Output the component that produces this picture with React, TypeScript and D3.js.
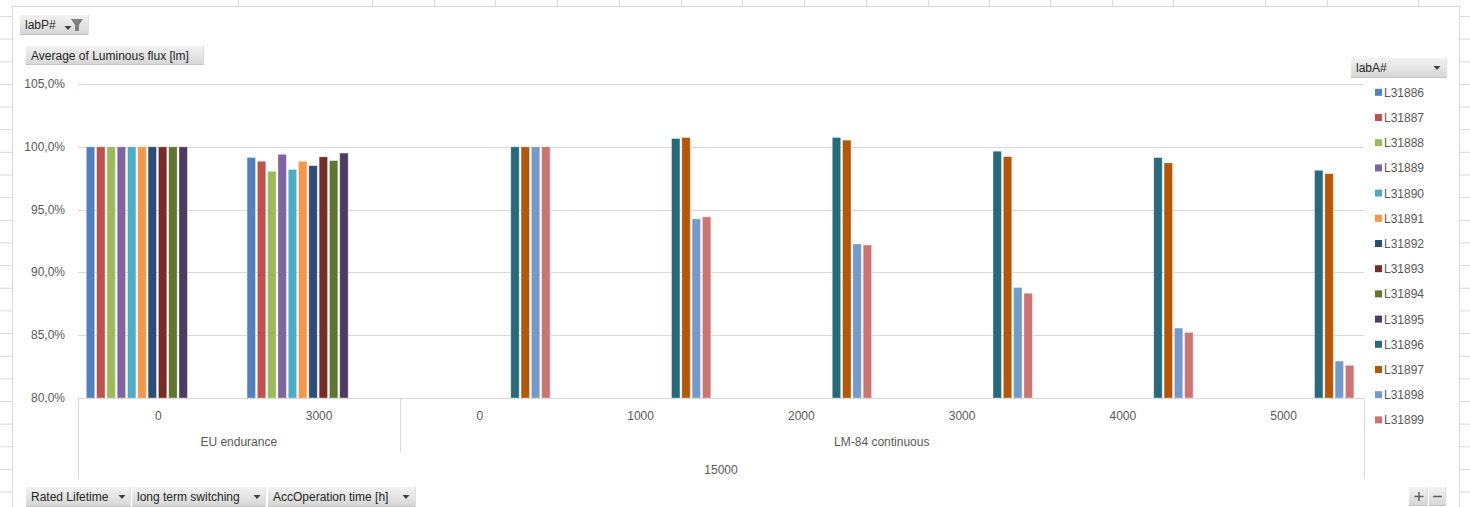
import React from "react";
import * as d3 from "d3";

// x axis, three levels
const timeLabels = ["0", "3000", "0", "1000", "2000", "3000", "4000", "5000"];
const testGroups = ["EU endurance", "LM-84 continuous"];
const groupSizes = [2, 6];
const lifetimeLabel = "15000";

const yTicks = [80, 85, 90, 95, 100, 105];

const seriesNames = [
  "L31886", "L31887", "L31888", "L31889", "L31890", "L31891", "L31892",
  "L31893", "L31894", "L31895", "L31896", "L31897", "L31898", "L31899",
];
const seriesColors = [
  "#4F81BD", "#C0504D", "#9BBB59", "#8064A2", "#4BACC6", "#F79646", "#2C4D75",
  "#772C2A", "#5F7530", "#4D3B62", "#276A7C", "#B65708", "#729ACA", "#CD7371",
];

// average luminous flux in % of initial, null = no measurement
const n = null;
const L31886 = [100, 99.15, n, n, n, n, n, n];
const L31887 = [100, 98.85, n, n, n, n, n, n];
const L31888 = [100, 98.05, n, n, n, n, n, n];
const L31889 = [100, 99.4, n, n, n, n, n, n];
const L31890 = [100, 98.2, n, n, n, n, n, n];
const L31891 = [100, 98.85, n, n, n, n, n, n];
const L31892 = [100, 98.5, n, n, n, n, n, n];
const L31893 = [100, 99.2, n, n, n, n, n, n];
const L31894 = [100, 98.9, n, n, n, n, n, n];
const L31895 = [100, 99.5, n, n, n, n, n, n];
const L31896 = [n, n, 100, 100.66, 100.74, 99.65, 99.14, 98.13];
const L31897 = [n, n, 100, 100.74, 100.53, 99.22, 98.72, 97.86];
const L31898 = [n, n, 100, 94.26, 92.26, 88.8, 85.57, 82.94];
const L31899 = [n, n, 100, 94.42, 92.18, 88.34, 85.22, 82.6];
const seriesValues = [
  L31886, L31887, L31888, L31889, L31890, L31891, L31892,
  L31893, L31894, L31895, L31896, L31897, L31898, L31899,
];

const W = 1470;
const H = 507;
const plot = { left: 78, right: 1364, top: 84, bottom: 398 };
const font = "'Liberation Sans', Arial, sans-serif";
const textColor = "#595959";

const Arrow = ({ x, y }: { x: number; y: number }) => (
  <path d={`M${x - 3.5},${y - 2}L${x + 3.5},${y - 2}L${x},${y + 2}Z`} fill="#404040" />
);

const Btn = ({ x, y, w, h, label, arrowX }: { x: number; y: number; w: number; h: number; label: string; arrowX?: number }) => (
  <g>
    <rect x={x} y={y} width={w} height={h} fill="url(#btnGrad)" />
    <line x1={x} x2={x + w} y1={y + h - 0.5} y2={y + h - 0.5} stroke="#c4c4c4" />
    <line x1={x + w - 0.5} x2={x + w - 0.5} y1={y} y2={y + h} stroke="#dedede" />
    <text x={x + 5} y={y + h / 2 + 4} fontSize={12} fill="#262626" fontFamily={font}>{label}</text>
    {arrowX !== undefined && <Arrow x={arrowX} y={y + h / 2} />}
  </g>
);

export default function App() {
  const x0 = d3.scaleBand<number>().domain(d3.range(timeLabels.length)).range([plot.left, plot.right]).padding(0);
  const catW = x0.bandwidth();
  const x1 = d3.scaleBand<number>().domain(d3.range(seriesNames.length)).range([8.3, catW - 8.3]).padding(0);
  const barW = x1.bandwidth() * 0.82;
  const y = d3.scaleLinear().domain([80, 105]).range([plot.bottom, plot.top]);

  const groupStarts = groupSizes.map((_, i) => d3.sum(groupSizes.slice(0, i)));

  const rows = d3.range(0, 23).map((k) => 401.5 - 22.65 * k + 22.65 * 4).filter((v) => v > 8 && v < H);
  const cols = [238, 372, 434, 495, 557, 619, 681, 742, 804, 866, 928, 989, 1050, 1112, 1173, 1265, 1327, 1418];

  return (
    <svg width={W} height={H} style={{ position: "absolute", left: 0, top: 0, background: "#fff" }}>
      <defs>
        <linearGradient id="btnGrad" x1="0" x2="0" y1="0" y2="1">
          <stop offset="0" stopColor="#f3f3f3" />
          <stop offset="1" stopColor="#d5d5d5" />
        </linearGradient>
      </defs>

      {/* spreadsheet behind the chart */}
      {cols.map((c) => (
        <line key={c} x1={c + 0.5} x2={c + 0.5} y1={0} y2={6} stroke="#dadada" />
      ))}
      {rows.map((r) => (
        <g key={r}>
          <line x1={0} x2={12} y1={r} y2={r} stroke="#dadada" />
          <line x1={1460} x2={W} y1={r} y2={r} stroke="#dadada" />
        </g>
      ))}
      <rect x={12.5} y={6.5} width={1447} height={H + 10} fill="#fff" stroke="#d9d9d9" />

      {/* grid */}
      {yTicks.map((t) => (
        <g key={t}>
          <line x1={plot.left} x2={plot.right} y1={Math.round(y(t)) + 0.5} y2={Math.round(y(t)) + 0.5} stroke="#d9d9d9" />
          <text x={65} y={y(t) + 4} textAnchor="end" fontSize={12} fill={textColor} fontFamily={font}>
            {d3.format(".1f")(t).replace(".", ",") + "%"}
          </text>
        </g>
      ))}

      {/* bars */}
      {seriesValues.map((vals, s) =>
        vals.map((v, c) =>
          v === null ? null : (
            <rect
              key={`${s}-${c}`}
              x={(x0(c) ?? 0) + (x1(s) ?? 0)}
              y={y(v)}
              width={barW}
              height={y(80) - y(v)}
              fill={seriesColors[s]}
              stroke="#ffffff"
              strokeOpacity={0.45}
              strokeWidth={0.8}
            />
          )
        )
      )}

      {/* category axis */}
      <line x1={plot.left} x2={plot.right} y1={plot.bottom + 0.5} y2={plot.bottom + 0.5} stroke="#d9d9d9" />
      {timeLabels.map((t, i) => (
        <text key={i} x={(x0(i) ?? 0) + catW / 2} y={420} textAnchor="middle" fontSize={12} fill={textColor} fontFamily={font}>
          {t}
        </text>
      ))}
      {testGroups.map((g, i) => {
        const a = x0(groupStarts[i]) ?? 0;
        const b = a + catW * groupSizes[i];
        return (
          <g key={g}>
            <text x={(a + b) / 2} y={446} textAnchor="middle" fontSize={12} fill={textColor} fontFamily={font}>{g}</text>
            {i > 0 && <line x1={Math.round(a) + 0.5} x2={Math.round(a) + 0.5} y1={plot.bottom} y2={452} stroke="#d9d9d9" />}
          </g>
        );
      })}
      <line x1={plot.left + 0.5} x2={plot.left + 0.5} y1={plot.bottom} y2={479} stroke="#d9d9d9" />
      <line x1={plot.right + 0.5} x2={plot.right + 0.5} y1={plot.bottom} y2={479} stroke="#d9d9d9" />
      <text x={(plot.left + plot.right) / 2} y={474} textAnchor="middle" fontSize={12} fill={textColor} fontFamily={font}>{lifetimeLabel}</text>

      {/* legend */}
      {seriesNames.map((name, i) => {
        const ly = 92.3 + i * 25.2;
        return (
          <g key={name}>
            <rect x={1375} y={ly - 3.5} width={7} height={7} fill={seriesColors[i]} />
            <text x={1384} y={ly + 4.5} fontSize={12} fill={textColor} fontFamily={font}>{name}</text>
          </g>
        );
      })}

      {/* pivot buttons */}
      <Btn x={20} y={15} w={69} h={20} label="labP#" />
      <Arrow x={68} y={28} />
      <path d="M71,19L83,19L79,25L79,31L75,31L75,25Z" fill="#808080" />
      <Btn x={26} y={46} w={178} h={19} label="Average of Luminous flux [lm]" />
      <Btn x={1351} y={58} w={96} h={20} label="labA#" arrowX={1437} />
      <Btn x={26} y={487} w={105} h={20} label="Rated Lifetime" arrowX={122} />
      <Btn x={132} y={487} w={134} h={20} label="long term switching" arrowX={257} />
      <Btn x={268} y={487} w={148} h={20} label="AccOperation time [h]" arrowX={406} />
      <Btn x={1409} y={487} w={19} h={19} label="" />
      <Btn x={1429} y={487} w={17} h={19} label="" />
      <path d="M1414.5,496.5h9M1419,492v9" stroke="#606060" strokeWidth={1.5} />
      <path d="M1433,496.5h9" stroke="#606060" strokeWidth={1.5} />
    </svg>
  );
}
